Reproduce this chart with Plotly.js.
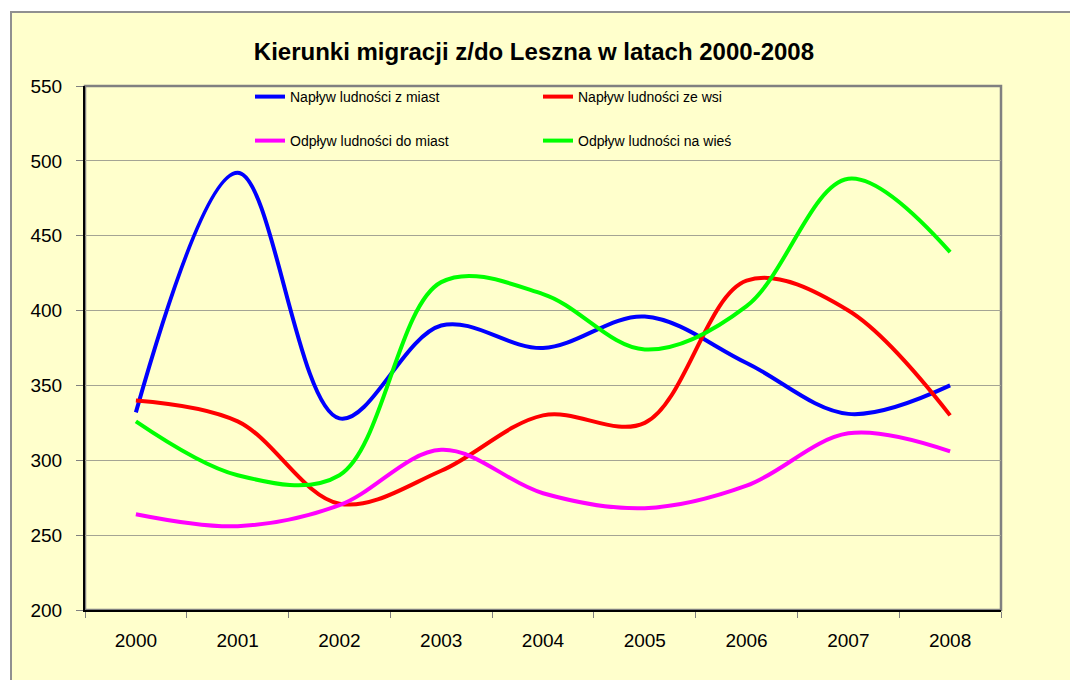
<!DOCTYPE html>
<html>
<head>
<meta charset="utf-8">
<script src="https://cdn.plot.ly/plotly-3.0.1.min.js"></script>
<style>
  html, body { margin: 0; padding: 0; background: #ffffff; }
  #chart { width: 1070px; height: 680px; }
</style>
</head>
<body>
<div id="chart"></div>
<script>
// ---- data ----
const years = ["2000", "2001", "2002", "2003", "2004", "2005", "2006", "2007", "2008"];
const naplywZMiast = [332, 492, 328, 390, 375, 396, 365, 331, 350];
const naplywZeWsi = [340, 326, 271, 293, 330, 325, 420, 400, 330];
const odplywDoMiast = [264, 256, 270, 307, 278, 268, 283, 318, 306];
const odplywNaWies = [326, 290, 290, 419, 411, 374, 403, 488, 439];
const seriesNames = ["Napływ ludności z miast", "Napływ ludności ze wsi", "Odpływ ludności do miast", "Odpływ ludności na wieś"];
const yTicks = [200, 250, 300, 350, 400, 450, 500, 550];

const FONT = "Liberation Sans, Arial, sans-serif";

function mk(name, y, color, legend) {
  return {
    type: "scatter", mode: "lines", x: years, y: y, name: name,
    line: { color: color, width: 4, shape: "spline", smoothing: 1 },
    legend: legend, hoverinfo: "skip"
  };
}

const traces = [
  mk(seriesNames[0], naplywZMiast, "#0000FF", "legend"),
  mk(seriesNames[1], naplywZeWsi, "#FF0000", "legend"),
  mk(seriesNames[2], odplywDoMiast, "#FF00FF", "legend2"),
  mk(seriesNames[3], odplywNaWies, "#00FF00", "legend2")
];

const L = 85, R = 69, T = 86, B = 70;
const W = 1070 - L - R, H = 680 - T - B;
const px = v => (v - L) / W;
const py = v => (680 - B - v) / H;

const legendCommon = {
  orientation: "h", bgcolor: "rgba(0,0,0,0)", borderwidth: 0,
  font: { family: FONT, size: 14, color: "#000000" },
  entrywidth: 243, entrywidthmode: "pixels",
  xanchor: "left", yanchor: "middle", itemwidth: 30
};

const layout = {
  width: 1070, height: 680,
  margin: { l: L, r: R, t: T, b: B },
  paper_bgcolor: "#ffffff",
  plot_bgcolor: "#FFFFCC",
  font: { family: FONT, color: "#000000" },
  title: {
    text: "<b>Kierunki migracji z/do Leszna w latach 2000-2008</b>",
    font: { family: FONT, size: 24, color: "#000000" },
    x: 0.499, xanchor: "center", y: 1 - 52 / 680, yanchor: "middle", yref: "container"
  },
  showlegend: true,
  legend: Object.assign({}, legendCommon, { x: px(250), y: py(97) }),
  legend2: Object.assign({}, legendCommon, { x: px(250), y: py(141) }),
  xaxis: {
    type: "category", range: [-0.5, 8.5],
    tickson: "boundaries", ticks: "outside", ticklen: 6, tickcolor: "#808080", tickwidth: 1,
    showline: true, linecolor: "#000000", linewidth: 2,
    showgrid: false, zeroline: false,
    tickfont: { family: FONT, size: 19, color: "#000000" },
    ticklabelstandoff: 12, fixedrange: true
  },
  yaxis: {
    range: [200, 550], tickvals: yTicks, ticktext: yTicks.map(String),
    ticks: "outside", ticklen: 7, tickcolor: "#808080", tickwidth: 1,
    showline: true, linecolor: "#000000", linewidth: 2,
    showgrid: true, gridcolor: "#A4A494", gridwidth: 1, zeroline: false,
    tickfont: { family: FONT, size: 19, color: "#000000" },
    ticklabelstandoff: 10, fixedrange: true
  },
  shapes: [
    { type: "rect", xref: "paper", yref: "paper", layer: "below",
      x0: px(11), x1: px(1080), y0: py(700), y1: py(12),
      fillcolor: "#FFFFCC", line: { color: "#909090", width: 2 } },
    { type: "rect", xref: "paper", yref: "paper", layer: "below",
      x0: 0, x1: 1, y0: 0, y1: 1,
      fillcolor: "rgba(0,0,0,0)", line: { color: "#808080", width: 2.5 } }
  ]
};

Plotly.newPlot("chart", traces, layout, { staticPlot: true, displayModeBar: false });
</script>
</body>
</html>
